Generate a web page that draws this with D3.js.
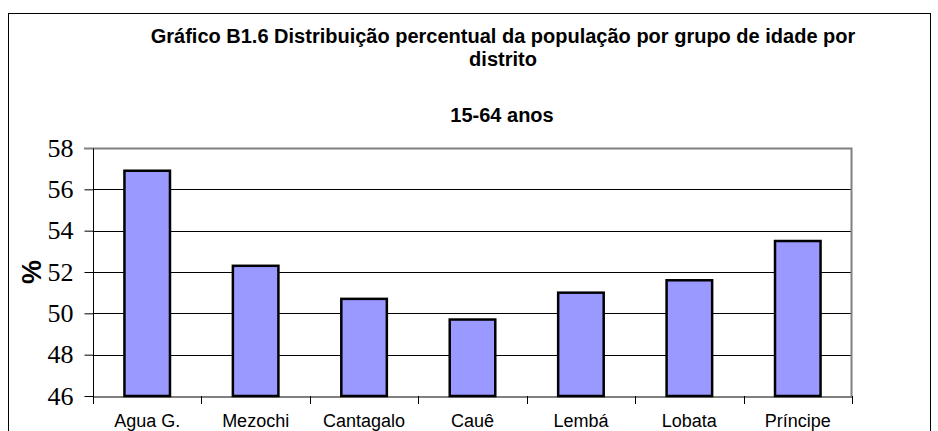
<!DOCTYPE html>
<html>
<head>
<meta charset="utf-8">
<script src="https://cdn.jsdelivr.net/npm/d3@7"></script>
<style>
  body { margin: 0; background: #fff; }
  svg { display: block; }
</style>
</head>
<body>
<div id="chart"></div>
<script>
`use strict`;

const districts = [`Agua G.`, `Mezochi`, `Cantagalo`, `Cauê`, `Lembá`, `Lobata`, `Príncipe`];

const share1564 = [56.9, 52.3, 50.7, 49.7, 51.0, 51.6, 53.5];

const yTicks = [46, 48, 50, 52, 54, 56, 58];

const titleLines = [`Gráfico B1.6 Distribuição percentual da população por grupo de idade por`, `distrito`];

const subTitle = `15-64 anos`;

(function () {

  const W = 938, H = 431;

  const plot = {left: 93, right: 852, top: 148, bottom: 396};

  let svg = d3.select(`#chart`).append(`svg`)
    .attr(`width`, W)
    .attr(`height`, H);

  // outer chart frame
  svg.append(`rect`)
    .attr(`x`, 8.5).attr(`y`, 13.5)
    .attr(`width`, 922).attr(`height`, 440)
    .attr(`fill`, `#fff`)
    .attr(`stroke`, `#000`)
    .style(`stroke-width`, 1);

  let x = d3.scaleBand()
    .domain(districts)
    .range([plot.left, plot.right])
    .paddingInner(0.58)
    .paddingOuter(0.29);

  let xCat = d3.scaleBand()
    .domain(districts)
    .range([plot.left, plot.right]);

  let y = d3.scaleLinear()
    .domain([46, 58])
    .range([plot.bottom, plot.top]);

  // gridlines
  svg.append(`g`).selectAll(`line`).data(yTicks.slice(1, -1))
    .enter()
    .append(`line`)
    .attr(`x1`, plot.left).attr(`x2`, plot.right)
    .attr(`y1`, d => Math.round(y(d)) + .5)
    .attr(`y2`, d => Math.round(y(d)) + .5)
    .attr(`stroke`, `#000`)
    .style(`stroke-width`, 1);

  // plot frame top/right in grey
  svg.append(`path`)
    .attr(`d`, `M${plot.left - 9},${plot.top + .5}H${plot.right - .5}V${plot.bottom}`)
    .attr(`fill`, `none`)
    .attr(`stroke`, `#808080`)
    .style(`stroke-width`, 2);

  // bars
  svg.append(`g`).selectAll(`rect`).data(share1564)
    .enter()
    .append(`rect`)
    .attr(`x`, (d, i) => x(districts[i]))
    .attr(`y`, d => y(d))
    .attr(`width`, x.bandwidth())
    .attr(`height`, d => y(46) - y(d))
    .attr(`fill`, `#9999ff`)
    .attr(`stroke`, `#000`)
    .style(`stroke-width`, 2.5);

  // y axis
  let yAxis = svg.append(`g`)
    .attr(`transform`, `translate(${plot.left + .5},0)`)
    .call(d3.axisLeft(y).tickValues(yTicks).tickSize(9).tickPadding(11).tickFormat(d3.format(`d`)));

  yAxis.select(`.domain`).attr(`d`, `M0,${plot.top}V${plot.bottom}`).attr(`stroke`, `#000`);

  yAxis.selectAll(`.tick line`).filter(d => d === 58).attr(`stroke`, `#808080`);

  yAxis.selectAll(`text`)
    .style(`font-family`, `"Liberation Serif", "Times New Roman", serif`)
    .style(`font-size`, `26px`)
    .attr(`fill`, `#000`);

  // x axis
  let xAxis = svg.append(`g`)
    .attr(`transform`, `translate(0,${plot.bottom + .5})`)
    .call(d3.axisBottom(xCat).tickSize(0).tickPadding(18));

  xAxis.select(`.domain`).attr(`stroke`, `#000`);

  xAxis.selectAll(`text`)
    .style(`font-family`, `"Liberation Sans", Arial, sans-serif`)
    .style(`font-size`, `18px`)
    .attr(`fill`, `#000`);

  // category boundary ticks
  let bounds = districts.map(d => xCat(d)).concat([plot.right]);

  svg.append(`g`).selectAll(`line`).data(bounds)
    .enter()
    .append(`line`)
    .attr(`x1`, d => Math.round(d) + .5).attr(`x2`, d => Math.round(d) + .5)
    .attr(`y1`, plot.bottom).attr(`y2`, plot.bottom + 8)
    .attr(`stroke`, `#000`);

  // titles
  svg.append(`g`).selectAll(`text`).data(titleLines)
    .enter()
    .append(`text`)
    .attr(`x`, 503)
    .attr(`y`, (d, i) => 42.5 + i * 23)
    .attr(`text-anchor`, `middle`)
    .style(`font-family`, `"Liberation Sans", Arial, sans-serif`)
    .style(`font-size`, `20px`)
    .style(`font-weight`, `bold`)
    .text(d => d);

  svg.append(`text`)
    .attr(`x`, 502)
    .attr(`y`, 122)
    .attr(`text-anchor`, `middle`)
    .style(`font-family`, `"Liberation Sans", Arial, sans-serif`)
    .style(`font-size`, `20px`)
    .style(`font-weight`, `bold`)
    .text(subTitle);

  // y label
  svg.append(`text`)
    .attr(`transform`, `translate(41,272) rotate(-90)`)
    .attr(`text-anchor`, `middle`)
    .style(`font-family`, `"Liberation Sans", Arial, sans-serif`)
    .style(`font-size`, `27px`)
    .style(`font-weight`, `bold`)
    .text(`%`);

})();
</script>
</body>
</html>
